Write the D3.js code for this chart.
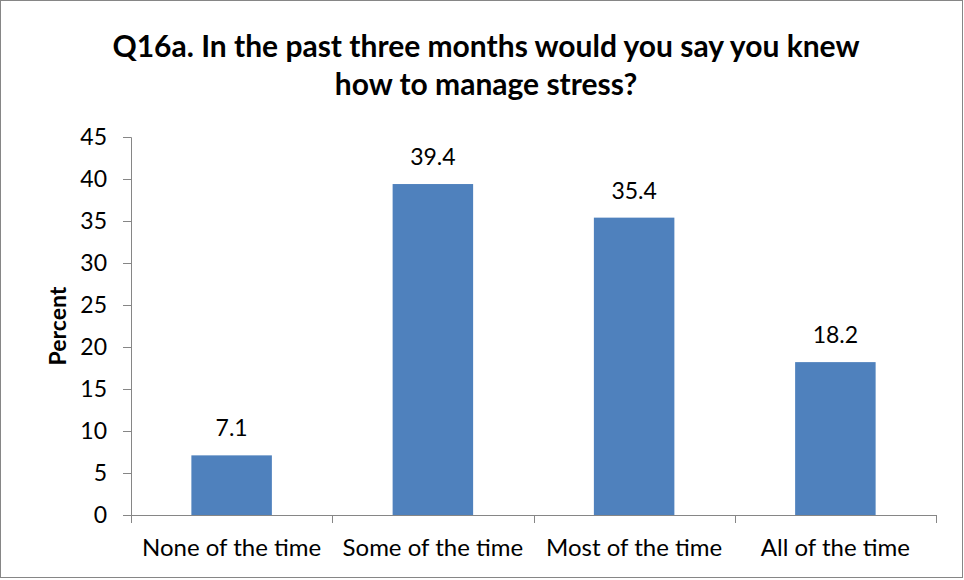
<!DOCTYPE html>
<html>
<head>
<meta charset="utf-8">
<script src="https://cdn.jsdelivr.net/npm/d3@7"></script>
<style>
  body { margin: 0; background: #fff; }
  svg text { font-family: Lato, "Open Sans", sans-serif; fill: #000; }
</style>
</head>
<body>
<div id="canvas"></div>
<script>
// chart data
var categories = ["None of the time", "Some of the time", "Most of the time", "All of the time"];
var values = [7.1, 39.4, 35.4, 18.2];
var yTicks = [0, 5, 10, 15, 20, 25, 30, 35, 40, 45];
var titleLines = ["Q16a. In the past three months would you say you knew", "how to manage stress?"];

var W = 964, H = 580;
var margin = {top: 137, right: 28, bottom: 65, left: 131};
var width = W - margin.left - margin.right,
	height = H - margin.top - margin.bottom;

var svg = d3.select("#canvas").append("svg")
	.attr("width", W)
	.attr("height", H);

// outer frame
svg.append("rect")
	.attr("x", 0.5).attr("y", 0.5)
	.attr("width", W - 2).attr("height", H - 3)
	.attr("fill", "#fff")
	.attr("stroke", "#868686");

// title
svg.append("text")
	.attr("text-anchor", "middle")
	.style("font-weight", "bold")
	.style("font-size", "30px")
	.selectAll("tspan")
	.data(titleLines)
	.enter().append("tspan")
	.attr("x", 486)
	.attr("y", function(d, i) { return 57 + i * 38; })
	.text(function(d) { return d; });

var g = svg.append("g")
	.attr("transform", "translate(" + margin.left + "," + margin.top + ")");

var x = d3.scaleBand()
	.domain(categories)
	.range([0, width])
	.paddingInner(0.6)
	.paddingOuter(0.3);

var y = d3.scaleLinear()
	.domain([0, 45])
	.range([height, 0]);

// y axis
var yAxis = g.append("g")
	.call(d3.axisLeft(y).tickValues(yTicks).tickSize(8).tickPadding(16));
yAxis.selectAll("path, line").attr("stroke", "#868686");
yAxis.selectAll("text").style("font-size", "23px");
yAxis.select(".domain").attr("d", "M-8,0.5H0.5V" + (height + 0.5));

// x axis: ticks at band boundaries
var xg = g.append("g").attr("transform", "translate(0," + height + ")");
xg.append("line")
	.attr("x1", 0).attr("x2", width)
	.attr("y1", 0.5).attr("y2", 0.5)
	.attr("stroke", "#868686");
var bounds = d3.range(categories.length + 1).map(function(i) { return i * x.step(); });
xg.selectAll(".xtick")
	.data(bounds)
	.enter().append("line")
	.attr("class", "xtick")
	.attr("x1", function(d) { return Math.round(d) + 0.5; })
	.attr("x2", function(d) { return Math.round(d) + 0.5; })
	.attr("y1", 0).attr("y2", 8)
	.attr("stroke", "#868686");
xg.selectAll(".xlabel")
	.data(categories)
	.enter().append("text")
	.attr("class", "xlabel")
	.attr("x", function(d) { return x(d) + x.bandwidth() / 2; })
	.attr("y", 41)
	.attr("text-anchor", "middle")
	.style("font-size", "24px")
	.text(function(d) { return d; });

// bars
g.selectAll(".bar")
	.data(values)
	.enter().append("rect")
	.attr("class", "bar")
	.attr("x", function(d, i) { return x(categories[i]); })
	.attr("y", function(d) { return y(d); })
	.attr("width", x.bandwidth())
	.attr("height", function(d) { return height - y(d); })
	.attr("fill", "#4F81BD");

// value labels
g.selectAll(".val")
	.data(values)
	.enter().append("text")
	.attr("class", "val")
	.attr("x", function(d, i) { return x(categories[i]) + x.bandwidth() / 2; })
	.attr("y", function(d) { return y(d) - 19; })
	.attr("text-anchor", "middle")
	.style("font-size", "23px")
	.text(function(d) { return d.toFixed(1); });

// y axis title
svg.append("text")
	.attr("transform", "translate(66," + (margin.top + height / 2) + ") rotate(-90)")
	.attr("text-anchor", "middle")
	.style("font-weight", "bold")
	.style("font-size", "23px")
	.text("Percent");
</script>
</body>
</html>
